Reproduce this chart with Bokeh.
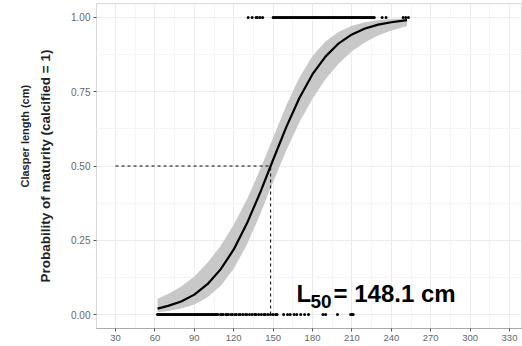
from bokeh.plotting import figure
from bokeh.models import (Range1d, FixedTicker, NumeralTickFormatter, Label, Title,
                          ColumnDataSource)
from bokeh.embed import file_html
from bokeh.resources import INLINE

# ---- data ----
curve_x = [62, 70, 80, 90, 100, 110, 120, 130, 140, 148.1, 160, 170, 180, 190, 200, 210, 220, 230, 240, 252]
curve_p = [0.020, 0.029, 0.044, 0.067, 0.102, 0.152, 0.219, 0.306, 0.409, 0.500, 0.631, 0.729, 0.809,
           0.869, 0.913, 0.943, 0.963, 0.976, 0.984, 0.991]
band_lo = [0.0075, 0.0115, 0.020, 0.034, 0.058, 0.096, 0.154, 0.235, 0.336, 0.426, 0.552, 0.647, 0.726,
           0.793, 0.845, 0.886, 0.917, 0.939, 0.956, 0.971]
band_hi = [0.053, 0.069, 0.094, 0.128, 0.174, 0.231, 0.302, 0.387, 0.487, 0.574, 0.704, 0.798, 0.870,
           0.920, 0.952, 0.972, 0.984, 0.991, 0.995, 0.997]

immature_x = [62, 63, 64, 65, 66, 67, 68, 69, 70, 71, 72, 73, 74, 75, 76, 77, 78, 79, 80, 81, 82, 83, 84,
              85, 86, 87, 88, 89, 90, 91, 92, 93, 94, 95, 96, 97, 98, 99, 100, 101, 102, 103, 104, 105,
              106, 107, 108, 110, 111, 112, 114, 115, 116, 118, 119, 121, 122, 124, 125, 127, 129, 130,
              132, 134, 136, 137, 139, 141, 143, 144, 146, 148, 150, 152, 153, 158, 161, 163, 166, 168,
              171, 174, 177, 188, 190, 199, 209, 210, 211]
mature_x = [131, 134, 137, 138, 140, 142, 150, 151, 152, 153, 154, 155, 156, 157, 158, 159, 160, 161,
            162, 163, 164, 165, 166, 167, 168, 169, 170, 171, 172, 173, 174, 175, 176, 177, 178, 179,
            180, 181, 182, 183, 184, 185, 186, 187, 188, 189, 190, 191, 192, 193, 194, 195, 196, 197,
            198, 199, 200, 201, 202, 203, 204, 205, 206, 207, 208, 209, 210, 211, 212, 213, 214, 215,
            216, 217, 218, 219, 220, 221, 222, 223, 224, 225, 226, 227, 233, 236, 249, 251, 253]

l50 = 148.1
x_ticks = [30, 60, 90, 120, 150, 180, 210, 240, 270, 300, 330]
y_ticks = [0.0, 0.25, 0.5, 0.75, 1.0]

FONT = "Liberation Sans"

p = figure(width=522, height=346, output_backend="svg", toolbar_location=None,
           x_range=Range1d(15.5, 339.9), y_range=Range1d(-0.0471, 1.0471),
           min_border_left=96, min_border_right=0, min_border_top=3, min_border_bottom=18)
p.background_fill_color = "white"
p.outline_line_color = "#d9d9d9"
p.outline_line_width = 1

p.xaxis.ticker = FixedTicker(ticks=x_ticks, minor_ticks=[t + 15 for t in [0] + x_ticks])
p.yaxis.ticker = FixedTicker(ticks=y_ticks, minor_ticks=[0.125, 0.375, 0.625, 0.875])
p.yaxis.formatter = NumeralTickFormatter(format="0.00")

p.xgrid.grid_line_color = "#ebebeb"
p.ygrid.grid_line_color = "#ebebeb"
p.xgrid.minor_grid_line_color = "#f5f5f5"
p.ygrid.minor_grid_line_color = "#f5f5f5"

for ax in (p.xaxis, p.yaxis):
    ax.minor_tick_line_color = None
    ax.major_tick_out = 3
    ax.major_tick_in = 0
    ax.major_tick_line_color = "#555555"
    ax.major_label_text_color = "#666666"
    ax.major_label_text_font = FONT
    ax.major_label_standoff = 2
p.xaxis.major_label_text_font_size = "9.5px"
p.yaxis.major_label_text_font_size = "10px"
p.xaxis.axis_line_color = "#aaaaaa"
p.yaxis.axis_line_color = None
p.yaxis.axis_label = "Probability of maturity (calcified = 1)"
p.yaxis.axis_label_text_font = FONT
p.yaxis.axis_label_text_font_size = "13.5px"
p.yaxis.axis_label_text_font_style = "bold"
p.yaxis.axis_label_text_color = "#222222"
p.yaxis.axis_label_standoff = 15

# neighbouring label on the far left
p.add_layout(Title(text="Clasper length (cm)", align="left", offset=141, standoff=10,
                   text_font=FONT, text_font_size="11px", text_font_style="bold",
                   text_color="#222222"), "left")

# confidence band
src = ColumnDataSource(dict(x=curve_x, lo=band_lo, hi=band_hi, p=curve_p))
p.varea(x="x", y1="lo", y2="hi", source=src, fill_color="#c8c8c8", fill_alpha=1.0)

# dashed guides
p.line([30, l50], [0.5, 0.5], line_color="black", line_width=1, line_dash="3 3")
p.line([l50, l50], [0.0, 0.5], line_color="black", line_width=1, line_dash="3 3")

# fitted curve
p.line("x", "p", source=src, line_color="black", line_width=2.2)

# observations
p.scatter(immature_x, [0] * len(immature_x), size=3, color="black", line_width=0)
p.scatter(mature_x, [1] * len(mature_x), size=3, color="black", line_width=0)

# L50 annotation
p.add_layout(Label(x=167.8, y=0.0707, text="L", text_font=FONT, text_font_size="24px",
                   text_font_style="bold", text_color="black", text_baseline="alphabetic"))
p.add_layout(Label(x=167.8, y=0.0707, x_offset=14, y_offset=-8, text="50", text_font=FONT,
                   text_font_size="19px", text_font_style="bold", text_color="black",
                   text_baseline="alphabetic"))
p.add_layout(Label(x=167.8, y=0.0707, x_offset=37, text="= 148.1 cm", text_font=FONT,
                   text_font_size="24px", text_font_style="bold", text_color="black",
                   text_baseline="alphabetic"))

open("out.html", "w").write(file_html(p, INLINE))
